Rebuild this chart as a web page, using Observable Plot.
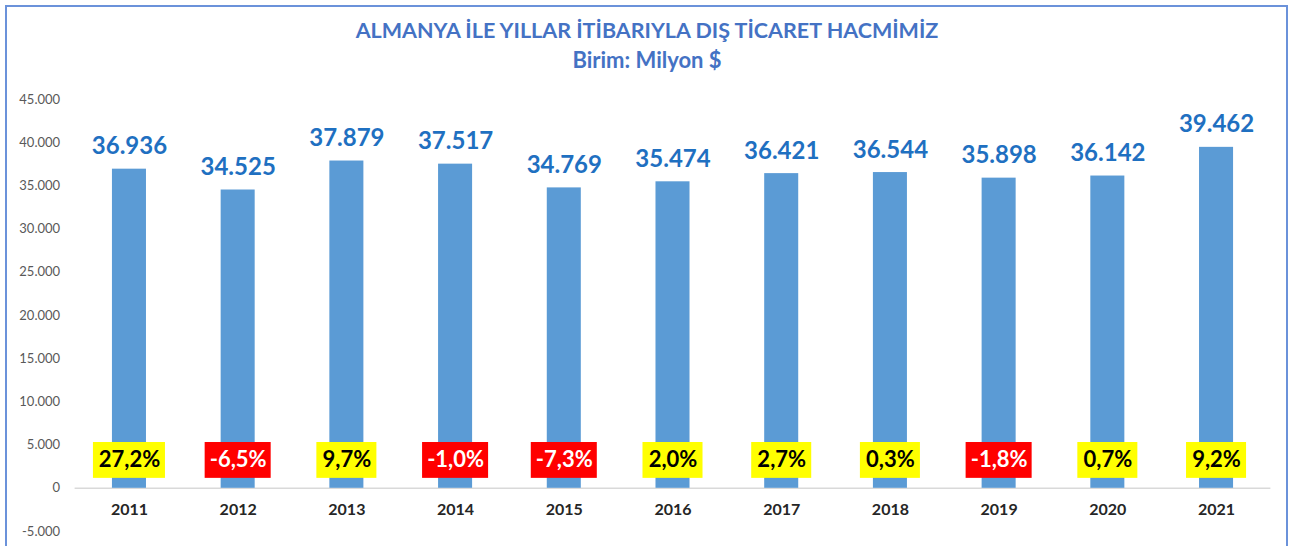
<!DOCTYPE html>
<html>
<head>
<meta charset="utf-8">
<script src="https://cdn.jsdelivr.net/npm/d3@7"></script>
<script src="https://cdn.jsdelivr.net/npm/@observablehq/plot@0.6"></script>
<style>
  html, body { margin: 0; padding: 0; background: #fff; }
  #wrap { position: relative; width: 1304px; height: 546px; overflow: hidden; font-family: Lato, "Open Sans", sans-serif; }
  #frame { position: absolute; left: 5px; top: 5px; width: 1283px; height: 600px; border: 2px solid #6B92DA; box-sizing: border-box; }
  #title { position: absolute; left: 0; width: 1294px; top: 17px; text-align: center; color: #4472C4; font-weight: bold; font-size: 21.5px; line-height: 26px; }
  #subtitle { position: absolute; left: 0; width: 1294px; top: 47px; text-align: center; color: #4472C4; font-weight: bold; font-size: 22px; line-height: 26px; }
  #chart { position: absolute; left: 0; top: 0; }
</style>
</head>
<body>
<div id="wrap">
  <div id="frame"></div>
  <div id="chart"></div>
  <div id="title">ALMANYA İLE YILLAR İTİBARIYLA DIŞ TİCARET HACMİMİZ</div>
  <div id="subtitle">Birim: Milyon $</div>
</div>
<script>
const years = ["2011","2012","2013","2014","2015","2016","2017","2018","2019","2020","2021"];
const volumes = [36936, 34525, 37879, 37517, 34769, 35474, 36421, 36544, 35898, 36142, 39462];
const changes = [27.2, -6.5, 9.7, -1.0, -7.3, 2.0, 2.7, 0.3, -1.8, 0.7, 9.2];
const yTicks = [-5000, 0, 5000, 10000, 15000, 20000, 25000, 30000, 35000, 40000, 45000];

const loc = d3.formatLocale({decimal: ",", thousands: ".", grouping: [3], currency: ["", "$"], minus: "-"});
const fmtInt = loc.format(",d");
const fmtPct = loc.format(".1f");

const data = years.map((y, i) => ({
  year: y,
  value: volumes[i],
  change: changes[i],
  pctLabel: fmtPct(changes[i]) + "%"
}));

const neg = data.filter(d => d.change < 0);
const posShort = data.filter(d => d.change >= 0 && d.pctLabel.length <= 4);
const posLong = data.filter(d => d.change >= 0 && d.pctLabel.length > 4);

const boxY1 = 1150, boxY2 = 5300, boxMid = 3225;

const chart = Plot.plot({
  width: 1304,
  height: 546,
  marginTop: 99,
  marginBottom: 15,
  marginLeft: 74.6,
  marginRight: 33.6,
  style: {fontFamily: "Lato, 'Open Sans', sans-serif", background: "transparent"},
  x: {domain: years, type: "band", paddingInner: 0.687, paddingOuter: 0.3435, round: false, axis: null},
  y: {domain: [-5000, 45000], axis: null},
  marks: [
    Plot.axisY({ticks: yTicks, tickSize: 0, tickPadding: 15, tickFormat: d => d === 0 ? "0" : fmtInt(d), fontSize: 13, color: "#595959", label: null}),
    Plot.ruleY([0], {stroke: "#D9D9D9", strokeWidth: 1.5}),
    Plot.barY(data, {x: "year", y: "value", fill: "#5B9BD5"}),
    Plot.text(data, {x: "year", y: "value", text: d => fmtInt(d.value), lineAnchor: "bottom", dy: -15, fill: "#1F70C1", fontSize: 24, fontWeight: "bold"}),
    Plot.barY(neg, {x: "year", y1: () => boxY1, y2: () => boxY2, fill: "#FF0000", insetLeft: -16, insetRight: -16}),
    Plot.barY(posShort, {x: "year", y1: () => boxY1, y2: () => boxY2, fill: "#FFFF00", insetLeft: -13, insetRight: -13}),
    Plot.barY(posLong, {x: "year", y1: () => boxY1, y2: () => boxY2, fill: "#FFFF00", insetLeft: -19, insetRight: -19}),
    Plot.text(data, {x: "year", y: () => boxMid, text: "pctLabel", lineAnchor: "middle", fill: d => d.change < 0 ? "#FFFFFF" : "#000000", fontSize: 22, fontWeight: "bold"}),
    Plot.text(data, {x: "year", y: () => 0, text: "year", lineAnchor: "middle", dy: 22, fill: "#262626", fontSize: 16, fontWeight: "bold"})
  ]
});
document.getElementById("chart").appendChild(chart);
</script>
</body>
</html>
